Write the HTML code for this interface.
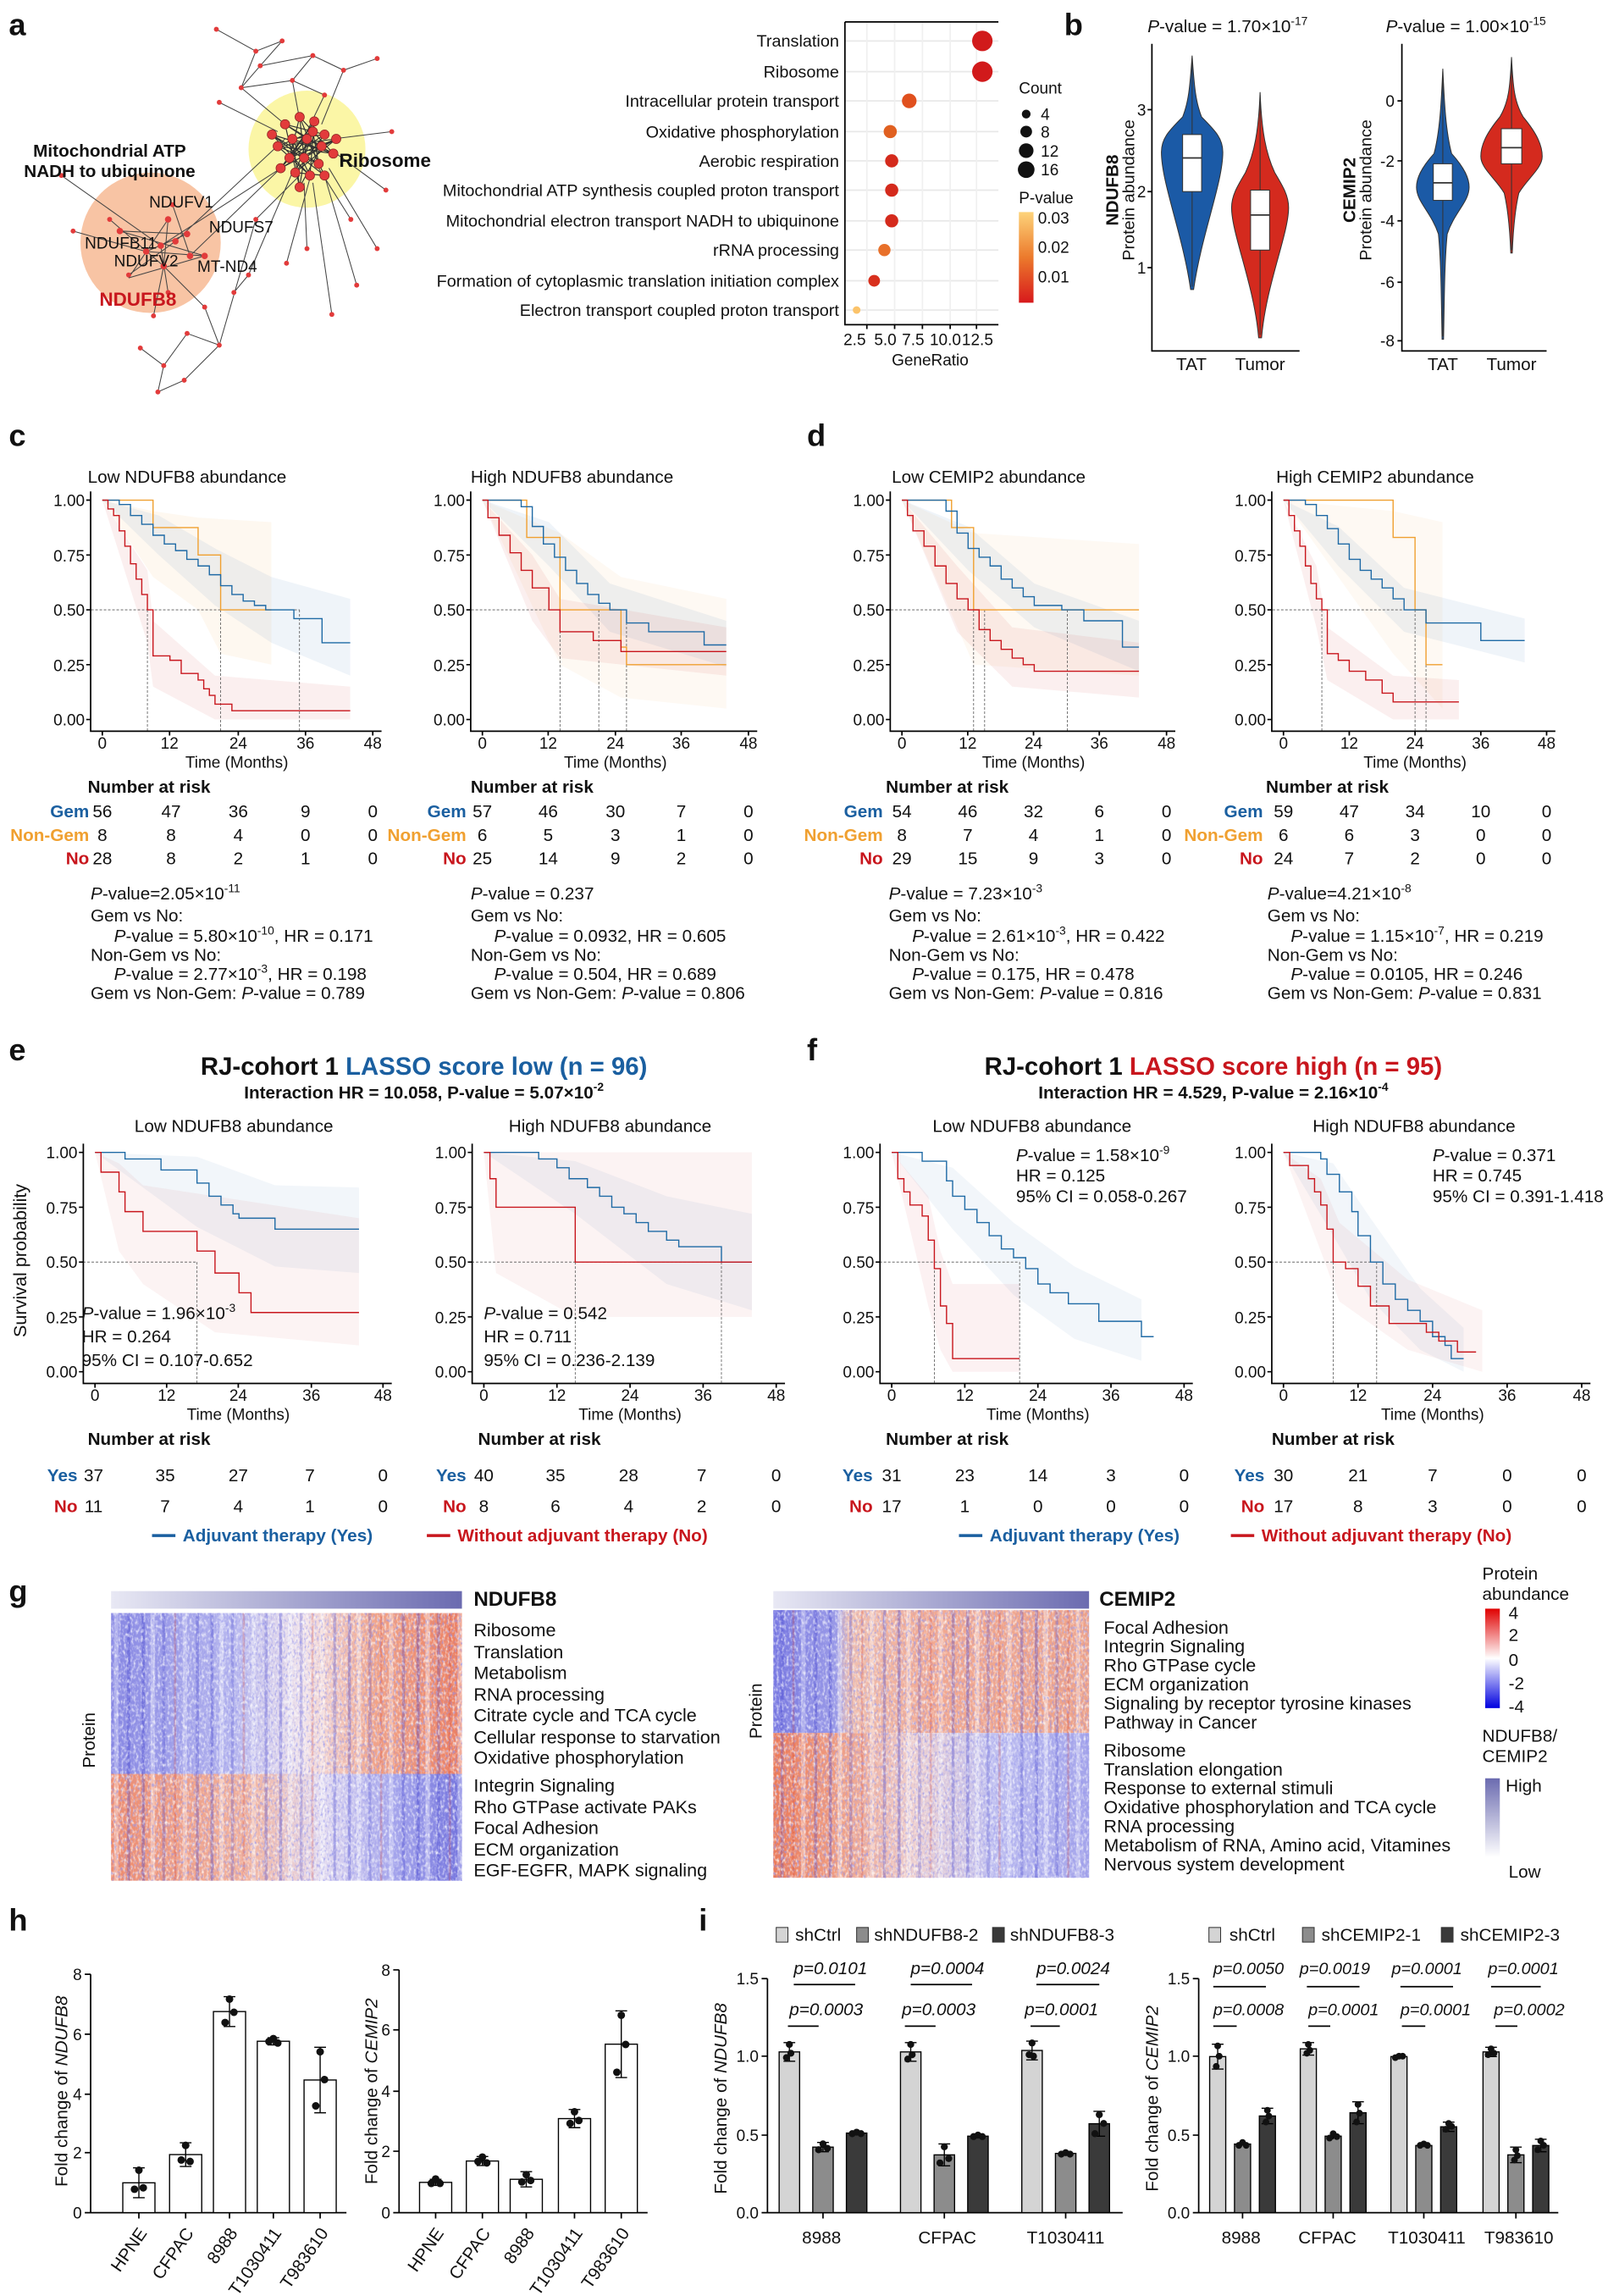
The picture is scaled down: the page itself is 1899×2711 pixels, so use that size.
<!DOCTYPE html>
<html><head><meta charset="utf-8"><style>
html,body{margin:0;padding:0;background:#fff}
svg{display:block}
text{font-family:"Liberation Sans",Arial,sans-serif;fill:#111}
.b{font-weight:bold}
.pl{font-size:21px;font-weight:bold}
.t{font-size:12px}
.s{font-size:11px}
.tk{font-size:11px}
.red{fill:#c8161d}.blue{fill:#1a5fa0}.org{fill:#f0a030}
.it{font-style:italic}
.ns{vector-effect:non-scaling-stroke;fill:none}
.kr{stroke:#c8161d;stroke-width:1.4}
.kb{stroke:#1f6aa5;stroke-width:1.4}
.ko{stroke:#f0a030;stroke-width:1.4}
.kd{stroke:#555;stroke-width:.8;stroke-dasharray:3 2}
.ax{stroke:#000;stroke-width:1;fill:none}
.eb{stroke:#000;stroke-width:.8;fill:none}
</style></head><body>
<svg width="1899" height="2711" viewBox="0 0 1100 1570" preserveAspectRatio="none" xmlns="http://www.w3.org/2000/svg">
<rect width="1100" height="1570" fill="#fff"/>
<defs>
<linearGradient id="pg" x1="0" y1="1" x2="0" y2="0"><stop offset="0" stop-color="#d7191c"/><stop offset=".5" stop-color="#ec7a2c"/><stop offset="1" stop-color="#fdd37a"/></linearGradient>
<linearGradient id="hm" x1="0" y1="1" x2="0" y2="0"><stop offset="0" stop-color="#0000e0"/><stop offset=".5" stop-color="#fff"/><stop offset="1" stop-color="#e00000"/></linearGradient>
<linearGradient id="hl" x1="0" y1="1" x2="0" y2="0"><stop offset="0" stop-color="#fff"/><stop offset="1" stop-color="#6b6bb0"/></linearGradient>
<linearGradient id="ab" x1="0" y1="0" x2="1" y2="0"><stop offset="0" stop-color="#e8e8f4"/><stop offset="1" stop-color="#6b6bb0"/></linearGradient>
<linearGradient id="h1t" x1="0" y1="0" x2="1" y2="0"><stop offset="0" stop-color="#8686e2"/><stop offset=".35" stop-color="#b8b8ee"/><stop offset=".55" stop-color="#f2e4ea"/><stop offset=".75" stop-color="#f2a488"/><stop offset="1" stop-color="#ec7e60"/></linearGradient>
<linearGradient id="h1b" x1="0" y1="0" x2="1" y2="0"><stop offset="0" stop-color="#ee8a6c"/><stop offset=".4" stop-color="#f2b4a0"/><stop offset=".6" stop-color="#e4dcf0"/><stop offset=".8" stop-color="#a8a8ec"/><stop offset="1" stop-color="#7272dc"/></linearGradient>
<linearGradient id="h2t" x1="0" y1="0" x2="1" y2="0"><stop offset="0" stop-color="#7676e0"/><stop offset=".2" stop-color="#9a9ae6"/><stop offset=".24" stop-color="#f0c0b0"/><stop offset=".5" stop-color="#f2a890"/><stop offset="1" stop-color="#eea288"/></linearGradient>
<linearGradient id="h2b" x1="0" y1="0" x2="1" y2="0"><stop offset="0" stop-color="#ec7a58"/><stop offset=".2" stop-color="#f09c80"/><stop offset=".45" stop-color="#eed0d0"/><stop offset=".7" stop-color="#c0c0f0"/><stop offset="1" stop-color="#a4a4ea"/></linearGradient>
<pattern id="st" width="47" height="10" patternUnits="userSpaceOnUse">
<rect x="3" width="2" height="10" fill="#3030c8" opacity=".35"/><rect x="9" width="3" height="10" fill="#fff" opacity=".4"/><rect x="17" width="2" height="10" fill="#3030c8" opacity=".25"/><rect x="25" width="1.5" height="10" fill="#d03020" opacity=".25"/><rect x="31" width="3" height="10" fill="#fff" opacity=".35"/><rect x="40" width="2" height="10" fill="#3030c8" opacity=".3"/>
</pattern>
<filter id="nz" x="0" y="0" width="1" height="1"><feTurbulence type="fractalNoise" baseFrequency="0.6 0.35" numOctaves="2" seed="3"/><feColorMatrix values="0 0 0 0 1  0 0 0 0 1  0 0 0 0 1  2 0 0 0 -0.9"/></filter>
<filter id="nz2" x="0" y="0" width="1" height="1"><feTurbulence type="fractalNoise" baseFrequency="0.7 0.4" numOctaves="2" seed="9"/><feColorMatrix values="0 0 0 0 0.3  0 0 0 0 0.3  0 0 0 0 0.85  2.2 0 0 0 -1.1"/></filter>
</defs>

<!-- panel a -->
<text class="pl" x="6" y="24">a</text>
<circle cx="210" cy="102" r="40" fill="#fbf6a6"/>
<circle cx="103" cy="166" r="48" fill="#f8c4a4"/>
<path d="M148,20 L175,35 L193,28 L178,45 L165,60 L200,55 L214,38 L235,48 L258,40 M178,45 L214,38 M165,60 L175,35 M200,55 L222,65 M150,70 L190,90 M222,65 L210,90 M200,55 L205,82 M165,60 L195,85 M235,48 L220,85 M175,150 L205,120 M196,180 L212,122 M227,215 L214,125 M244,195 L222,120 M258,170 L225,115 M264,130 L230,105 M268,90 L228,95 M240,150 L218,115 M210,170 L208,125 M170,188 L200,118 M160,200 L170,188 M140,210 L150,236 L128,228 L112,250 L108,268 L126,260 L150,236 M112,250 L96,238 M140,210 L112,182 M150,236 L175,150 M42,120 L110,168 M50,158 L100,172 M75,150 L112,182 M118,140 L130,175 M88,188 L120,165 M115,200 L110,168 M105,216 L112,182 M82,158 L128,160 M88,190 L140,175 M100,172 L140,175 M110,168 L200,110 M120,165 L195,95 M130,175 L192,115 M115,150 L112,182 M100,172 L128,160 M82,158 L140,175 M88,190 L115,150" stroke="#444" stroke-width=".6" fill="none"/>
<path d="M195,85 L222,92 L200,95 L228,105 L190,100 L218,112 L205,80 L198,108 L215,83 L212,120 L186,92 L222,120 L202,118 L230,95 L192,115 L214,90 L208,108 L205,128 L220,100 L195,85 L210,95 L222,120 M200,95 L212,120 L190,100 L214,90 L218,112 L186,92 L228,105 L205,80 L208,108 L230,95 L198,108 L222,92 L202,118 L215,83 L192,115 L210,95 L205,128 L195,85 M210,95 L228,105 M200,95 L205,128 M186,92 L222,120 M190,100 L230,95" stroke="#333" stroke-width=".7" fill="none"/>
<g fill="#e23b3b" stroke="#822" stroke-width=".4">
<circle cx="195" cy="85" r="3.2"/><circle cx="205" cy="80" r="3.2"/><circle cx="215" cy="83" r="3.2"/><circle cx="222" cy="92" r="3.2"/><circle cx="200" cy="95" r="3.2"/><circle cx="210" cy="95" r="3.2"/><circle cx="220" cy="100" r="3.2"/><circle cx="190" cy="100" r="3.2"/><circle cx="198" cy="108" r="3.2"/><circle cx="208" cy="108" r="3.2"/><circle cx="218" cy="112" r="3.2"/><circle cx="228" cy="105" r="3.2"/><circle cx="202" cy="118" r="3.2"/><circle cx="212" cy="120" r="3.2"/><circle cx="192" cy="115" r="3.2"/><circle cx="222" cy="120" r="3.2"/><circle cx="205" cy="128" r="3.2"/><circle cx="214" cy="90" r="3.2"/><circle cx="186" cy="92" r="3.2"/><circle cx="230" cy="95" r="3.2"/>
</g>
<g fill="#e23b3b">
<circle cx="148" cy="20" r="1.7"/><circle cx="175" cy="35" r="1.7"/><circle cx="193" cy="28" r="1.7"/><circle cx="178" cy="45" r="1.7"/><circle cx="165" cy="60" r="1.7"/><circle cx="200" cy="55" r="1.7"/><circle cx="214" cy="38" r="1.7"/><circle cx="235" cy="48" r="1.7"/><circle cx="258" cy="40" r="1.7"/><circle cx="222" cy="65" r="1.7"/><circle cx="150" cy="70" r="1.7"/><circle cx="175" cy="150" r="1.7"/><circle cx="196" cy="180" r="1.7"/><circle cx="227" cy="215" r="1.7"/><circle cx="244" cy="195" r="1.7"/><circle cx="258" cy="170" r="1.7"/><circle cx="264" cy="130" r="1.7"/><circle cx="268" cy="90" r="1.7"/><circle cx="240" cy="150" r="1.7"/><circle cx="210" cy="170" r="1.7"/><circle cx="170" cy="188" r="1.7"/><circle cx="160" cy="200" r="1.7"/><circle cx="140" cy="210" r="1.7"/><circle cx="150" cy="236" r="1.7"/><circle cx="128" cy="228" r="1.7"/><circle cx="112" cy="250" r="1.7"/><circle cx="108" cy="268" r="1.7"/><circle cx="126" cy="260" r="1.7"/><circle cx="96" cy="238" r="1.7"/><circle cx="42" cy="120" r="1.7"/><circle cx="50" cy="158" r="1.7"/><circle cx="75" cy="150" r="1.7"/><circle cx="118" cy="140" r="1.7"/><circle cx="88" cy="188" r="1.7"/><circle cx="115" cy="200" r="1.7"/><circle cx="105" cy="216" r="1.7"/>
<circle cx="110" cy="168" r="2.2"/><circle cx="120" cy="165" r="2.2"/><circle cx="100" cy="172" r="2.2"/><circle cx="130" cy="175" r="2.2"/><circle cx="112" cy="182" r="2.2"/><circle cx="82" cy="158" r="2.2"/><circle cx="128" cy="160" r="2.2"/><circle cx="140" cy="175" r="2.2"/><circle cx="115" cy="150" r="2.2"/>
</g>
<text class="b" x="75" y="107" font-size="12" text-anchor="middle">Mitochondrial ATP</text>
<text class="b" x="75" y="121" font-size="12" text-anchor="middle">NADH to ubiquinone</text>
<text class="b" x="232" y="114" font-size="13">Ribosome</text>
<text class="s" x="102" y="142">NDUFV1</text>
<text class="s" x="58" y="170">NDUFB11</text>
<text class="s" x="143" y="159">NDUFS7</text>
<text class="s" x="78" y="182">NDUFV2</text>
<text class="s" x="135" y="186">MT-ND4</text>
<text class="b red" x="68" y="209" font-size="13">NDUFB8</text>

<!-- dot plot -->
<rect x="578" y="15" width="105" height="207" fill="#fff"/>
<g stroke="#e8e8e8" stroke-width="1">
<path d="M578,28H683M578,49H683M578,69H683M578,90H683M578,110H683M578,130H683M578,151H683M578,171H683M578,192H683M578,212H683"/>
<path d="M593,15V222M612,15V222M631,15V222M650,15V222M668,15V222" stroke="#f0f0f0"/>
</g>
<path class="ax" d="M578,15H683M578,15V222H683M593,222v3M612,222v3M631,222v3M650,222v3M668,222v3"/>
<circle cx="672" cy="28" r="7" fill="#d11a1b"/><circle cx="672" cy="49" r="7" fill="#d11a1b"/><circle cx="622" cy="69" r="5" fill="#e0501e"/><circle cx="609" cy="90" r="4.5" fill="#e06020"/><circle cx="610" cy="110" r="4.5" fill="#d42a1c"/><circle cx="610" cy="130" r="4.5" fill="#d42a1c"/><circle cx="610" cy="151" r="4.5" fill="#d42a1c"/><circle cx="605" cy="171" r="4.2" fill="#e8702a"/><circle cx="598" cy="192" r="4" fill="#d8301d"/><circle cx="586" cy="212" r="2.6" fill="#fbc36a"/>
<g font-size="11.5" text-anchor="end">
<text x="574" y="32">Translation</text><text x="574" y="53">Ribosome</text><text x="574" y="73">Intracellular protein transport</text><text x="574" y="94">Oxidative phosphorylation</text><text x="574" y="114">Aerobic respiration</text><text x="574" y="134">Mitochondrial ATP synthesis coupled proton transport</text><text x="574" y="155">Mitochondrial electron transport NADH to ubiquinone</text><text x="574" y="175">rRNA processing</text><text x="574" y="196">Formation of cytoplasmic translation initiation complex</text><text x="574" y="216">Electron transport coupled proton transport</text>
</g>
<text class="tk" x="577" y="236">2.5</text><text class="tk" x="598" y="236">5.0</text><text class="tk" x="617" y="236">7.5</text><text class="tk" x="636" y="236">10.0</text><text class="tk" x="658" y="236">12.5</text>
<text class="s" x="610" y="250">GeneRatio</text>
<text class="s" x="697" y="64">Count</text>
<circle cx="702" cy="78" r="3" fill="#111"/><circle cx="702" cy="90" r="4" fill="#111"/><circle cx="702" cy="103" r="5" fill="#111"/><circle cx="702" cy="116" r="5.7" fill="#111"/>
<text class="s" x="712" y="82">4</text><text class="s" x="712" y="94">8</text><text class="s" x="712" y="107">12</text><text class="s" x="712" y="120">16</text>
<text class="s" x="697" y="139">P-value</text>
<rect x="697" y="145" width="10" height="62" fill="url(#pg)"/>
<text class="s" x="710" y="153">0.03</text><text class="s" x="710" y="173">0.02</text><text class="s" x="710" y="193">0.01</text>

<!-- panel b -->
<text class="pl" x="728" y="24">b</text>
<text class="t" x="785" y="22"><tspan class="it">P</tspan>-value = 1.70×10<tspan font-size="8" dy="-5">-17</tspan></text>
<text class="t" x="948" y="22"><tspan class="it">P</tspan>-value = 1.00×10<tspan font-size="8" dy="-5">-15</tspan></text>
<g stroke="#333" stroke-width=".6">
<path d="M815.5,38 C817,60 818,70 822,80 C832,90 836.5,95 836.5,104 C836.5,125 822,160 816.5,198 L814.5,198 C809,160 794.5,125 794.5,104 C794.5,95 799,90 809,80 C813,70 814,60 815.5,38Z" fill="#1b5aa6"/>
<path d="M862,63 C863,90 866,105 872,118 C878,128 881.5,134 881.5,142 C881.5,160 866,195 863,231 L861,231 C858,195 842.5,160 842.5,142 C842.5,134 846,128 852,118 C858,105 861,90 862,63Z" fill="#d42a1e"/>
<path d="M987,47 C988,70 989,90 993,105 C1002,115 1005,122 1005,128 C1005,138 995,145 990,160 C988,180 988,210 987.5,232 L986.5,232 C986,210 986,180 984,160 C979,145 969,138 969,128 C969,122 972,115 981,105 C985,90 986,70 987,47Z" fill="#1b5aa6"/>
<path d="M1034,39 C1035,60 1036,70 1042,80 C1052,92 1055,100 1055,107 C1055,115 1045,122 1039,132 C1036,145 1035,160 1034.5,173 L1033.5,173 C1033,160 1032,145 1029,132 C1023,122 1013,115 1013,107 C1013,100 1016,92 1026,80 C1032,70 1033,60 1034,39Z" fill="#d42a1e"/>
<path d="M815.5,40V196M862,65V229M987,49V230M1034,41V171" fill="none"/>
<rect x="809" y="92" width="13" height="39" fill="#fff"/><rect x="855.5" y="130" width="13" height="41" fill="#fff"/><rect x="980.5" y="112" width="13" height="25" fill="#fff"/><rect x="1027" y="88" width="14" height="24" fill="#fff"/>
<path d="M809,108h13M855.5,147h13M980.5,125h13M1027,101h14" stroke-width="1" fill="none"/>
</g>
<path class="ax" d="M788,30V240H889M959,30V240H1058M785,75h3M785,131h3M785,183h3M956,69h3M956,110h3M956,151h3M956,193h3M956,233h3"/>
<text class="tk" x="784" y="79" text-anchor="end">3</text><text class="tk" x="784" y="135" text-anchor="end">2</text><text class="tk" x="784" y="187" text-anchor="end">1</text>
<text class="tk" x="954" y="73" text-anchor="end">0</text><text class="tk" x="954" y="114" text-anchor="end">-2</text><text class="tk" x="954" y="155" text-anchor="end">-4</text><text class="tk" x="954" y="197" text-anchor="end">-6</text><text class="tk" x="954" y="237" text-anchor="end">-8</text>
<text transform="translate(765,130) rotate(-90)" text-anchor="middle" class="b" font-size="12">NDUFB8</text>
<text transform="translate(776,130) rotate(-90)" text-anchor="middle" font-size="11.5">Protein abundance</text>
<text transform="translate(927,130) rotate(-90)" text-anchor="middle" class="b" font-size="12">CEMIP2</text>
<text transform="translate(938,130) rotate(-90)" text-anchor="middle" font-size="11.5">Protein abundance</text>
<text class="t" x="815" y="253" text-anchor="middle">TAT</text><text class="t" x="862" y="253" text-anchor="middle">Tumor</text>
<text class="t" x="987" y="253" text-anchor="middle">TAT</text><text class="t" x="1034" y="253" text-anchor="middle">Tumor</text>

<!-- panels c d -->
<text class="pl" x="6" y="305">c</text>
<text class="pl" x="552" y="305">d</text>
<g font-size="12">
<text x="60" y="330">Low NDUFB8 abundance</text><text x="322" y="330">High NDUFB8 abundance</text><text x="610" y="330">Low CEMIP2 abundance</text><text x="873" y="330">High CEMIP2 abundance</text>
</g>

<g transform="translate(70,492) scale(3.854,-150)">
<polygon points="0,1 9,.95 17,.92 30,.9 30,.25 21,.3 17,.5 9,.65 0,1" fill="#f0a030" opacity=".07"/>
<polygon points="0,1 10,.93 20,.78 30,.65 44,.55 44,.2 30,.35 20,.52 10,.75 0,1" fill="#1f6aa5" opacity=".07"/>
<polygon points="0,1 8,.68 9,.45 20,.2 44,.15 44,0 20,0 9,.15 8,.35 0,1" fill="#c8161d" opacity=".07"/>
<path class="ns kd" d="M-2,.5H35M8,.5V-.05M21,.5V-.05M35,.5V-.05"/>
<path class="ns ko" d="M0,1H9V.875H17V.75H21V.5H30"/>
<path class="ns kb" d="M0,1H3V.98H5V.93H7V.89H9V.84H11V.8H13V.77H15V.73H17V.7H19V.66H21V.61H23V.57H25V.54H27V.52H29V.5H34V.46H39V.35H44"/>
<path class="ns kr" d="M0,1H1V.96H2V.93H3V.86H4V.79H5V.71H6V.64H7V.57H8V.5H9V.29H12V.27H14V.21H17V.18H18V.14H19V.11H20V.07H23V.04H44"/>
</g>
<g transform="translate(330,492) scale(3.792,-150)">
<polygon points="0,1 14,.85 25,.65 44,.55 44,.05 25,.1 14,.25 0,1" fill="#f0a030" opacity=".06"/>
<polygon points="0,1 12,.9 23,.62 44,.45 44,.24 23,.4 12,.7 0,1" fill="#1f6aa5" opacity=".07"/>
<polygon points="0,1 9,.75 14,.55 44,.42 44,.2 14,.28 9,.45 0,1" fill="#c8161d" opacity=".07"/>
<path class="ns kd" d="M-2,.5H26M14,.5V-.05M21,.5V-.05M26,.5V-.05"/>
<path class="ns ko" d="M0,1H8V.83H14V.5H25V.33H26V.25H44"/>
<path class="ns kb" d="M0,1H7V.97H9V.88H11V.8H13V.74H15V.68H17V.62H19V.57H21V.53H23V.5H26V.44H30V.4H40V.34H44"/>
<path class="ns kr" d="M0,1H1V.92H3V.84H5V.76H7V.68H9V.6H12V.5H14V.4H20V.36H25V.31H44"/>
</g>
<g transform="translate(617,492) scale(3.771,-150)">
<polygon points="0,1 13,.85 43,.8 43,.2 13,.25 0,1" fill="#f0a030" opacity=".06"/>
<polygon points="0,1 12,.88 24,.62 43,.45 43,.22 24,.42 12,.68 0,1" fill="#1f6aa5" opacity=".07"/>
<polygon points="0,1 10,.7 20,.42 43,.35 43,.1 20,.15 10,.4 0,1" fill="#c8161d" opacity=".07"/>
<path class="ns kd" d="M-2,.5H30M13,.5V-.05M15,.5V-.05M30,.5V-.05"/>
<path class="ns ko" d="M0,1H9V.875H13V.5H43"/>
<path class="ns kb" d="M0,1H8V.95H10V.85H12V.78H14V.74H16V.7H18V.64H20V.6H22V.56H24V.52H29V.5H33V.45H40V.33H43"/>
<path class="ns kr" d="M0,1H1V.93H2V.86H4V.79H6V.7H8V.62H10V.55H12V.5H14V.41H16V.36H18V.32H20V.28H22V.25H24V.22H43"/>
</g>
<g transform="translate(878,492) scale(3.75,-150)">
<polygon points="0,1 20,.95 29,.9 29,.05 20,.3 0,1" fill="#f0a030" opacity=".06"/>
<polygon points="0,1 10,.88 22,.6 44,.46 44,.26 22,.4 10,.7 0,1" fill="#1f6aa5" opacity=".07"/>
<polygon points="0,1 6,.7 8,.42 20,.2 32,.18 32,0 20,0 8,.18 6,.42 0,1" fill="#c8161d" opacity=".07"/>
<path class="ns kd" d="M-2,.5H26M7,.5V-.05M24,.5V-.05M26,.5V-.05"/>
<path class="ns ko" d="M0,1H20V.83H24V.5H26V.25H29"/>
<path class="ns kb" d="M0,1H4V.98H6V.93H8V.87H10V.8H12V.73H14V.68H16V.64H18V.6H20V.55H22V.5H26V.44H32V.44H36V.36H44"/>
<path class="ns kr" d="M0,1H1V.93H2V.86H3V.79H4V.7H5V.62H6V.55H7V.5H8V.3H10V.27H12V.22H15V.18H18V.12H20V.08H32"/>
</g>
<path class="ax" d="M62,336V500H261M322,336V500H518M609,336V500H804M870,336V500H1064
M59,342h3M59,379.5h3M59,417h3M59,454.5h3M59,492h3 M319,342h3M319,379.5h3M319,417h3M319,454.5h3M319,492h3 M606,342h3M606,379.5h3M606,417h3M606,454.5h3M606,492h3 M867,342h3M867,379.5h3M867,417h3M867,454.5h3M867,492h3
M70,500v3M116,500v3M163,500v3M209,500v3M255,500v3 M330,500v3M375,500v3M421,500v3M466,500v3M512,500v3 M617,500v3M662,500v3M707,500v3M752,500v3M798,500v3 M878,500v3M923,500v3M968,500v3M1013,500v3M1058,500v3"/>

<g transform="translate(65,938) scale(4.104,-150)">
<polygon points="0,1 17,.98 30,.85 44,.84 44,.45 30,.48 17,.66 0,1" fill="#1f6aa5" opacity=".06"/>
<polygon points="0,1 4,.95 8,.85 20,.8 44,.7 44,.12 20,.18 8,.4 4,.55 0,1" fill="#c8161d" opacity=".05"/>
<path class="ns kd" d="M-2,.5H17M17,.5V-.05"/>
<path class="ns kb" d="M0,1H5V.97H11V.92H17V.86H19V.8H21V.76H23V.72H24V.7H30V.65H44"/>
<path class="ns kr" d="M0,1H1V.91H4V.82H5V.73H8V.64H17V.55H20V.45H24V.36H26V.27H44"/>
</g>
<g transform="translate(331,938) scale(4.167,-150)">
<polygon points="0,1 15,.96 30,.8 44,.72 44,.28 30,.4 15,.72 0,1" fill="#1f6aa5" opacity=".06"/>
<polygon points="0,1 44,1 44,.25 15,.25 2,.45 0,1" fill="#c8161d" opacity=".05"/>
<path class="ns kd" d="M-2,.5H39M15,.5V-.05M39,.5V-.05"/>
<path class="ns kb" d="M0,1H9V.97H12V.93H14V.88H17V.84H19V.8H21V.75H23V.72H25V.68H27V.64H30V.6H32V.57H39V.5H44"/>
<path class="ns kr" d="M0,1H1V.88H2V.75H15V.5H44"/>
</g>
<g transform="translate(610,938) scale(4.167,-150)">
<polygon points="0,1 10,.93 20,.68 30,.48 41,.33 41,.05 30,.15 20,.35 10,.65 0,1" fill="#1f6aa5" opacity=".06"/>
<polygon points="0,1 6,.8 8,.55 10,.4 21,.4 21,0 10,0 8,.1 6,.3 0,1" fill="#c8161d" opacity=".06"/>
<path class="ns kd" d="M-2,.5H21M7,.5V-.05M21,.5V-.05"/>
<path class="ns kb" d="M0,1H5V.96H9V.87H10V.8H12V.74H14V.68H16V.62H18V.56H20V.52H22V.47H24V.4H26V.36H29V.31H34V.23H41V.16H43"/>
<path class="ns kr" d="M0,1H1V.88H2V.82H3V.76H5V.71H6V.6H7V.47H8V.3H9V.22H10V.06H21"/>
</g>
<g transform="translate(878,938) scale(4.25,-150)">
<polygon points="0,1 8,.95 14,.7 22,.38 29,.2 29,0 22,.1 14,.33 8,.62 0,1" fill="#1f6aa5" opacity=".06"/>
<polygon points="0,1 6,.88 9,.68 20,.42 32,.28 32,0 20,.1 9,.32 6,.55 0,1" fill="#c8161d" opacity=".05"/>
<path class="ns kd" d="M-2,.5H15M8,.5V-.05M15,.5V-.05"/>
<path class="ns kb" d="M0,1H6V.97H7V.9H9V.82H11V.73H12V.62H14V.5H16V.4H18V.33H20V.28H22V.23H24V.16H26V.12H27V.06H29"/>
<path class="ns kr" d="M0,1H1V.94H4V.88H5V.82H6V.76H7V.65H8V.5H10V.47H12V.39H14V.3H17V.22H23V.18H25V.14H28V.09H31"/>
</g>
<path class="ax" d="M57,782V946H268M323,782V946H537M602,782V946H816M870,782V946H1088
M54,788h3M54,825.5h3M54,863h3M54,900.5h3M54,938h3 M320,788h3M320,825.5h3M320,863h3M320,900.5h3M320,938h3 M599,788h3M599,825.5h3M599,863h3M599,900.5h3M599,938h3 M867,788h3M867,825.5h3M867,863h3M867,900.5h3M867,938h3
M65,946v3M114,946v3M163,946v3M213,946v3M262,946v3 M331,946v3M381,946v3M431,946v3M481,946v3M531,946v3 M610,946v3M660,946v3M710,946v3M760,946v3M810,946v3 M878,946v3M929,946v3M980,946v3M1031,946v3M1082,946v3"/>

<g font-size="11" text-anchor="end">
<text x="58" y="346">1.00</text><text x="58" y="384">0.75</text><text x="58" y="421">0.50</text><text x="58" y="459">0.25</text><text x="58" y="496">0.00</text>
<text x="318" y="346">1.00</text><text x="318" y="384">0.75</text><text x="318" y="421">0.50</text><text x="318" y="459">0.25</text><text x="318" y="496">0.00</text>
<text x="605" y="346">1.00</text><text x="605" y="384">0.75</text><text x="605" y="421">0.50</text><text x="605" y="459">0.25</text><text x="605" y="496">0.00</text>
<text x="866" y="346">1.00</text><text x="866" y="384">0.75</text><text x="866" y="421">0.50</text><text x="866" y="459">0.25</text><text x="866" y="496">0.00</text>
<text x="53" y="792">1.00</text><text x="53" y="830">0.75</text><text x="53" y="867">0.50</text><text x="53" y="905">0.25</text><text x="53" y="942">0.00</text>
<text x="319" y="792">1.00</text><text x="319" y="830">0.75</text><text x="319" y="867">0.50</text><text x="319" y="905">0.25</text><text x="319" y="942">0.00</text>
<text x="598" y="792">1.00</text><text x="598" y="830">0.75</text><text x="598" y="867">0.50</text><text x="598" y="905">0.25</text><text x="598" y="942">0.00</text>
<text x="866" y="792">1.00</text><text x="866" y="830">0.75</text><text x="866" y="867">0.50</text><text x="866" y="905">0.25</text><text x="866" y="942">0.00</text>
</g>
<g font-size="11" text-anchor="middle">
<text x="70" y="512">0</text><text x="116" y="512">12</text><text x="163" y="512">24</text><text x="209" y="512">36</text><text x="255" y="512">48</text>
<text x="330" y="512">0</text><text x="375" y="512">12</text><text x="421" y="512">24</text><text x="466" y="512">36</text><text x="512" y="512">48</text>
<text x="617" y="512">0</text><text x="662" y="512">12</text><text x="707" y="512">24</text><text x="752" y="512">36</text><text x="798" y="512">48</text>
<text x="878" y="512">0</text><text x="923" y="512">12</text><text x="968" y="512">24</text><text x="1013" y="512">36</text><text x="1058" y="512">48</text>
<text x="65" y="958">0</text><text x="114" y="958">12</text><text x="163" y="958">24</text><text x="213" y="958">36</text><text x="262" y="958">48</text>
<text x="331" y="958">0</text><text x="381" y="958">12</text><text x="431" y="958">24</text><text x="481" y="958">36</text><text x="531" y="958">48</text>
<text x="610" y="958">0</text><text x="660" y="958">12</text><text x="710" y="958">24</text><text x="760" y="958">36</text><text x="810" y="958">48</text>
<text x="878" y="958">0</text><text x="929" y="958">12</text><text x="980" y="958">24</text><text x="1031" y="958">36</text><text x="1082" y="958">48</text>
<text x="162" y="525">Time (Months)</text><text x="421" y="525">Time (Months)</text><text x="707" y="525">Time (Months)</text><text x="968" y="525">Time (Months)</text>
<text x="163" y="971">Time (Months)</text><text x="431" y="971">Time (Months)</text><text x="710" y="971">Time (Months)</text><text x="980" y="971">Time (Months)</text>
</g>

<g font-size="12">
<text class="b" x="60" y="542">Number at risk</text><text class="b" x="322" y="542">Number at risk</text><text class="b" x="606" y="542">Number at risk</text><text class="b" x="866" y="542">Number at risk</text>
<text class="b blue" x="61" y="559" text-anchor="end">Gem</text><text class="b org" x="61" y="575" text-anchor="end">Non-Gem</text><text class="b red" x="61" y="591" text-anchor="end">No</text>
<text class="b blue" x="319" y="559" text-anchor="end">Gem</text><text class="b org" x="319" y="575" text-anchor="end">Non-Gem</text><text class="b red" x="319" y="591" text-anchor="end">No</text>
<text class="b blue" x="604" y="559" text-anchor="end">Gem</text><text class="b org" x="604" y="575" text-anchor="end">Non-Gem</text><text class="b red" x="604" y="591" text-anchor="end">No</text>
<text class="b blue" x="864" y="559" text-anchor="end">Gem</text><text class="b org" x="864" y="575" text-anchor="end">Non-Gem</text><text class="b red" x="864" y="591" text-anchor="end">No</text>
</g>
<g font-size="12" text-anchor="middle">
<text x="70" y="559">56</text><text x="117" y="559">47</text><text x="163" y="559">36</text><text x="209" y="559">9</text><text x="255" y="559">0</text>
<text x="70" y="575">8</text><text x="117" y="575">8</text><text x="163" y="575">4</text><text x="209" y="575">0</text><text x="255" y="575">0</text>
<text x="70" y="591">28</text><text x="117" y="591">8</text><text x="163" y="591">2</text><text x="209" y="591">1</text><text x="255" y="591">0</text>
<text x="330" y="559">57</text><text x="375" y="559">46</text><text x="421" y="559">30</text><text x="466" y="559">7</text><text x="512" y="559">0</text>
<text x="330" y="575">6</text><text x="375" y="575">5</text><text x="421" y="575">3</text><text x="466" y="575">1</text><text x="512" y="575">0</text>
<text x="330" y="591">25</text><text x="375" y="591">14</text><text x="421" y="591">9</text><text x="466" y="591">2</text><text x="512" y="591">0</text>
<text x="617" y="559">54</text><text x="662" y="559">46</text><text x="707" y="559">32</text><text x="752" y="559">6</text><text x="798" y="559">0</text>
<text x="617" y="575">8</text><text x="662" y="575">7</text><text x="707" y="575">4</text><text x="752" y="575">1</text><text x="798" y="575">0</text>
<text x="617" y="591">29</text><text x="662" y="591">15</text><text x="707" y="591">9</text><text x="752" y="591">3</text><text x="798" y="591">0</text>
<text x="878" y="559">59</text><text x="923" y="559">47</text><text x="968" y="559">34</text><text x="1013" y="559">10</text><text x="1058" y="559">0</text>
<text x="878" y="575">6</text><text x="923" y="575">6</text><text x="968" y="575">3</text><text x="1013" y="575">0</text><text x="1058" y="575">0</text>
<text x="878" y="591">24</text><text x="923" y="591">7</text><text x="968" y="591">2</text><text x="1013" y="591">0</text><text x="1058" y="591">0</text>
</g>
<g font-size="12">
<text x="62" y="615"><tspan class="it">P</tspan>-value=2.05×10<tspan font-size="8" dy="-5">-11</tspan></text>
<text x="62" y="630">Gem vs No:</text>
<text x="78" y="644"><tspan class="it">P</tspan>-value = 5.80×10<tspan font-size="8" dy="-5">-10</tspan><tspan dy="5">, HR = 0.171</tspan></text>
<text x="62" y="657">Non-Gem vs No:</text>
<text x="78" y="670"><tspan class="it">P</tspan>-value = 2.77×10<tspan font-size="8" dy="-5">-3</tspan><tspan dy="5">, HR = 0.198</tspan></text>
<text x="62" y="683">Gem vs Non-Gem: <tspan class="it">P</tspan>-value = 0.789</text>
<text x="322" y="615"><tspan class="it">P</tspan>-value = 0.237</text>
<text x="322" y="630">Gem vs No:</text>
<text x="338" y="644"><tspan class="it">P</tspan>-value = 0.0932, HR = 0.605</text>
<text x="322" y="657">Non-Gem vs No:</text>
<text x="338" y="670"><tspan class="it">P</tspan>-value = 0.504, HR = 0.689</text>
<text x="322" y="683">Gem vs Non-Gem: <tspan class="it">P</tspan>-value = 0.806</text>
<text x="608" y="615"><tspan class="it">P</tspan>-value = 7.23×10<tspan font-size="8" dy="-5">-3</tspan></text>
<text x="608" y="630">Gem vs No:</text>
<text x="624" y="644"><tspan class="it">P</tspan>-value = 2.61×10<tspan font-size="8" dy="-5">-3</tspan><tspan dy="5">, HR = 0.422</tspan></text>
<text x="608" y="657">Non-Gem vs No:</text>
<text x="624" y="670"><tspan class="it">P</tspan>-value = 0.175, HR = 0.478</text>
<text x="608" y="683">Gem vs Non-Gem: <tspan class="it">P</tspan>-value = 0.816</text>
<text x="867" y="615"><tspan class="it">P</tspan>-value=4.21×10<tspan font-size="8" dy="-5">-8</tspan></text>
<text x="867" y="630">Gem vs No:</text>
<text x="883" y="644"><tspan class="it">P</tspan>-value = 1.15×10<tspan font-size="8" dy="-5">-7</tspan><tspan dy="5">, HR = 0.219</tspan></text>
<text x="867" y="657">Non-Gem vs No:</text>
<text x="883" y="670"><tspan class="it">P</tspan>-value = 0.0105, HR = 0.246</text>
<text x="867" y="683">Gem vs Non-Gem: <tspan class="it">P</tspan>-value = 0.831</text>
</g>

<!-- panels e f -->
<text class="pl" x="6" y="725">e</text>
<text class="pl" x="552" y="725">f</text>
<text x="290" y="735" text-anchor="middle" class="b" font-size="17">RJ-cohort 1 <tspan class="blue">LASSO score low (n = 96)</tspan></text>
<text x="290" y="751" text-anchor="middle" class="b" font-size="12">Interaction HR = 10.058, P-value = 5.07×10<tspan font-size="8" dy="-5">-2</tspan></text>
<text x="830" y="735" text-anchor="middle" class="b" font-size="17">RJ-cohort 1 <tspan class="red">LASSO score high (n = 95)</tspan></text>
<text x="830" y="751" text-anchor="middle" class="b" font-size="12">Interaction HR = 4.529, P-value = 2.16×10<tspan font-size="8" dy="-5">-4</tspan></text>
<g font-size="12">
<text x="92" y="774">Low NDUFB8 abundance</text><text x="348" y="774">High NDUFB8 abundance</text><text x="638" y="774">Low NDUFB8 abundance</text><text x="898" y="774">High NDUFB8 abundance</text>
</g>
<text transform="translate(18,862) rotate(-90)" text-anchor="middle" font-size="12.5">Survival probability</text>
<g font-size="12">
<text x="56" y="902"><tspan class="it">P</tspan>-value = 1.96×10<tspan font-size="8" dy="-5">-3</tspan></text>
<text x="56" y="918">HR = 0.264</text><text x="56" y="934">95% CI = 0.107-0.652</text>
<text x="331" y="902"><tspan class="it">P</tspan>-value = 0.542</text>
<text x="331" y="918">HR = 0.711</text><text x="331" y="934">95% CI = 0.236-2.139</text>
<text x="695" y="794"><tspan class="it">P</tspan>-value = 1.58×10<tspan font-size="8" dy="-5">-9</tspan></text>
<text x="695" y="808">HR = 0.125</text><text x="695" y="822">95% CI = 0.058-0.267</text>
<text x="980" y="794"><tspan class="it">P</tspan>-value = 0.371</text>
<text x="980" y="808">HR = 0.745</text><text x="980" y="822">95% CI = 0.391-1.418</text>
</g>
<g font-size="12">
<text class="b" x="60" y="988">Number at risk</text><text class="b" x="327" y="988">Number at risk</text><text class="b" x="606" y="988">Number at risk</text><text class="b" x="870" y="988">Number at risk</text>
<text class="b blue" x="53" y="1013" text-anchor="end">Yes</text><text class="b red" x="53" y="1034" text-anchor="end">No</text>
<text class="b blue" x="319" y="1013" text-anchor="end">Yes</text><text class="b red" x="319" y="1034" text-anchor="end">No</text>
<text class="b blue" x="597" y="1013" text-anchor="end">Yes</text><text class="b red" x="597" y="1034" text-anchor="end">No</text>
<text class="b blue" x="865" y="1013" text-anchor="end">Yes</text><text class="b red" x="865" y="1034" text-anchor="end">No</text>
</g>
<g font-size="12" text-anchor="middle">
<text x="64" y="1013">37</text><text x="113" y="1013">35</text><text x="163" y="1013">27</text><text x="212" y="1013">7</text><text x="262" y="1013">0</text>
<text x="64" y="1034">11</text><text x="113" y="1034">7</text><text x="163" y="1034">4</text><text x="212" y="1034">1</text><text x="262" y="1034">0</text>
<text x="331" y="1013">40</text><text x="380" y="1013">35</text><text x="430" y="1013">28</text><text x="480" y="1013">7</text><text x="531" y="1013">0</text>
<text x="331" y="1034">8</text><text x="380" y="1034">6</text><text x="430" y="1034">4</text><text x="480" y="1034">2</text><text x="531" y="1034">0</text>
<text x="610" y="1013">31</text><text x="660" y="1013">23</text><text x="710" y="1013">14</text><text x="760" y="1013">3</text><text x="810" y="1013">0</text>
<text x="610" y="1034">17</text><text x="660" y="1034">1</text><text x="710" y="1034">0</text><text x="760" y="1034">0</text><text x="810" y="1034">0</text>
<text x="878" y="1013">30</text><text x="929" y="1013">21</text><text x="980" y="1013">7</text><text x="1031" y="1013">0</text><text x="1082" y="1013">0</text>
<text x="878" y="1034">17</text><text x="929" y="1034">8</text><text x="980" y="1034">3</text><text x="1031" y="1034">0</text><text x="1082" y="1034">0</text>
</g>
<g font-size="12" class="b">
<line x1="104" y1="1050" x2="120" y2="1050" stroke="#1a5fa0" stroke-width="2"/><text x="125" y="1054" class="blue">Adjuvant therapy (Yes)</text>
<line x1="292" y1="1050" x2="308" y2="1050" stroke="#c8161d" stroke-width="2"/><text x="313" y="1054" class="red">Without adjuvant therapy (No)</text>
<line x1="656" y1="1050" x2="672" y2="1050" stroke="#1a5fa0" stroke-width="2"/><text x="677" y="1054" class="blue">Adjuvant therapy (Yes)</text>
<line x1="842" y1="1050" x2="858" y2="1050" stroke="#c8161d" stroke-width="2"/><text x="863" y="1054" class="red">Without adjuvant therapy (No)</text>
</g>

<!-- panel g -->
<text class="pl" x="6" y="1095">g</text>
<rect x="76" y="1088" width="240" height="12" fill="url(#ab)"/>
<rect x="529" y="1088" width="216" height="12" fill="url(#ab)"/>
<rect x="76" y="1103" width="240" height="110" fill="url(#h1t)"/>
<rect x="76" y="1213" width="240" height="73" fill="url(#h1b)"/>
<rect x="529" y="1101" width="216" height="84" fill="url(#h2t)"/>
<rect x="529" y="1185" width="216" height="99" fill="url(#h2b)"/>
<rect x="76" y="1103" width="240" height="183" fill="url(#st)"/>
<rect x="529" y="1101" width="216" height="183" fill="url(#st)"/>
<rect x="76" y="1103" width="240" height="183" filter="url(#nz)"/>
<rect x="529" y="1101" width="216" height="183" filter="url(#nz)"/>
<rect x="76" y="1103" width="240" height="183" filter="url(#nz2)"/>
<rect x="529" y="1101" width="216" height="183" filter="url(#nz2)"/>
<text x="324" y="1098" class="b" font-size="14">NDUFB8</text>
<text x="752" y="1098" class="b" font-size="14">CEMIP2</text>
<text transform="translate(65,1190) rotate(-90)" text-anchor="middle" font-size="12">Protein</text>
<text transform="translate(521,1170) rotate(-90)" text-anchor="middle" font-size="12">Protein</text>
<g font-size="12.5" class="red">
<text x="324" y="1119">Ribosome</text><text x="324" y="1134">Translation</text><text x="324" y="1148">Metabolism</text><text x="324" y="1163">RNA processing</text><text x="324" y="1177">Citrate cycle and TCA cycle</text><text x="324" y="1192">Cellular response to starvation</text><text x="324" y="1206">Oxidative phosphorylation</text>
<text x="755" y="1117">Focal Adhesion</text><text x="755" y="1130">Integrin Signaling</text><text x="755" y="1143">Rho GTPase cycle</text><text x="755" y="1156">ECM organization</text><text x="755" y="1169">Signaling by receptor tyrosine kinases</text><text x="755" y="1182">Pathway in Cancer</text>
</g>
<g font-size="12.5" class="blue">
<text x="324" y="1225">Integrin Signaling</text><text x="324" y="1240">Rho GTPase activate PAKs</text><text x="324" y="1254">Focal Adhesion</text><text x="324" y="1269">ECM organization</text><text x="324" y="1283">EGF-EGFR, MAPK signaling</text>
<text x="755" y="1201">Ribosome</text><text x="755" y="1214">Translation elongation</text><text x="755" y="1227">Response to external stimuli</text><text x="755" y="1240">Oxidative phosphorylation and TCA cycle</text><text x="755" y="1253">RNA processing</text><text x="755" y="1266">Metabolism of RNA, Amino acid, Vitamines</text><text x="755" y="1279">Nervous system development</text>
</g>
<g font-size="12">
<text x="1014" y="1080">Protein</text><text x="1014" y="1094">abundance</text>
<rect x="1016" y="1100" width="10" height="68" fill="url(#hm)"/>
<text x="1032" y="1107">4</text><text x="1032" y="1122">2</text><text x="1032" y="1139">0</text><text x="1032" y="1155">-2</text><text x="1032" y="1171">-4</text>
<text x="1014" y="1191">NDUFB8/</text><text x="1014" y="1205">CEMIP2</text>
<rect x="1016" y="1216" width="10" height="54" fill="url(#hl)"/>
<text x="1030" y="1225">High</text><text x="1032" y="1284">Low</text>
</g>

<!-- panel h -->
<text class="pl" x="6" y="1320">h</text>
<text class="pl" x="478" y="1320">i</text>
<path class="ax" d="M62,1350V1513H237M58,1350h4M58,1391h4M58,1432h4M58,1472h4M58,1513h4 M273,1347V1513H443M269,1347h4M269,1388h4M269,1430h4M269,1471h4M269,1513h4
M95,1513v4M127,1513v4M157,1513v4M187,1513v4M219,1513v4M298,1513v4M330,1513v4M360,1513v4M393,1513v4M425,1513v4"/>
<g fill="#fff" stroke="#000" stroke-width=".8">
<rect x="84" y="1492.6" width="22" height="20.4"/><rect x="116" y="1473.3" width="22" height="39.7"/><rect x="146" y="1375.5" width="22" height="137.5"/><rect x="176" y="1395.8" width="22" height="117.2"/><rect x="208" y="1422.3" width="22" height="90.7"/>
<rect x="287" y="1492.3" width="22" height="20.7"/><rect x="319" y="1477.7" width="22" height="35.3"/><rect x="349" y="1490.2" width="22" height="22.8"/><rect x="382" y="1448.7" width="22" height="64.3"/><rect x="414" y="1397.8" width="22" height="115.2"/>
</g>
<path class="eb" d="M95,1482.4V1502.8M91,1482.4h8M91,1502.8h8 M127,1465.2V1481.4M123,1465.2h8M123,1481.4h8 M157,1365.3V1385.7M153,1365.3h8M153,1385.7h8 M187,1393.4V1398.3M183,1393.4h8M183,1398.3h8 M219,1399.9V1444.7M215,1399.9h8M215,1444.7h8 M298,1490.2V1494.4M294,1490.2h8M294,1494.4h8 M330,1474.6V1480.8M326,1474.6h8M326,1480.8h8 M360,1485V1495.4M356,1485h8M356,1495.4h8 M393,1442.5V1454.9M389,1442.5h8M389,1454.9h8 M425,1375V1420.6M421,1375h8M421,1420.6h8"/>
<g fill="#111">
<circle cx="92" cy="1497" r="2.6"/><circle cx="95" cy="1484" r="2.6"/><circle cx="98" cy="1496" r="2.6"/>
<circle cx="124" cy="1477" r="2.6"/><circle cx="127" cy="1467" r="2.6"/><circle cx="130" cy="1478" r="2.6"/>
<circle cx="154" cy="1383" r="2.6"/><circle cx="157" cy="1367" r="2.6"/><circle cx="160" cy="1376" r="2.6"/>
<circle cx="184" cy="1396" r="2.6"/><circle cx="187" cy="1394" r="2.6"/><circle cx="190" cy="1397" r="2.6"/>
<circle cx="216" cy="1440" r="2.6"/><circle cx="219" cy="1403" r="2.6"/><circle cx="222" cy="1422" r="2.6"/>
<circle cx="295" cy="1493" r="2.6"/><circle cx="298" cy="1490" r="2.6"/><circle cx="301" cy="1493" r="2.6"/>
<circle cx="327" cy="1478" r="2.6"/><circle cx="330" cy="1475" r="2.6"/><circle cx="333" cy="1479" r="2.6"/>
<circle cx="357" cy="1492" r="2.6"/><circle cx="360" cy="1487" r="2.6"/><circle cx="363" cy="1491" r="2.6"/>
<circle cx="390" cy="1452" r="2.6"/><circle cx="393" cy="1444" r="2.6"/><circle cx="396" cy="1450" r="2.6"/>
<circle cx="422" cy="1417" r="2.6"/><circle cx="425" cy="1378" r="2.6"/><circle cx="428" cy="1398" r="2.6"/>
</g>

<!-- panel i -->
<path class="ax" d="M525,1353V1513H768M521,1353h4M521,1406h4M521,1460h4M521,1513h4 M820,1353V1513H1066M816,1353h4M816,1406h4M816,1460h4M816,1513h4
M563,1513v4M646,1513v4M729,1513v4M850,1513v4M912,1513v4M974,1513v4M1037,1513v4"/>
<!-- i1 bars: each group translate to bar center -->
<g stroke="#000" stroke-width=".8">
<g transform="translate(540,0)"><rect x="-7" y="1403.1" width="14" height="109.9" fill="#d4d4d4"/><path class="eb" d="M0,1396.7V1409.5M-4,1396.7h8M-4,1409.5h8"/><g fill="#111" stroke="none"><circle cx="-2" cy="1407" r="2.4"/><circle cx="0" cy="1398" r="2.4"/><circle cx="1" cy="1404" r="2.4"/></g></g>
<g transform="translate(563,0)"><rect x="-7" y="1468.2" width="14" height="44.8" fill="#8c8c8c"/><path class="eb" d="M0,1465V1471.4M-4,1465h8M-4,1471.4h8"/><g fill="#111" stroke="none"><circle cx="-3" cy="1470" r="2.4"/><circle cx="0" cy="1466" r="2.4"/><circle cx="3" cy="1469" r="2.4"/></g></g>
<g transform="translate(586,0)"><rect x="-7" y="1458.6" width="14" height="54.4" fill="#3a3a3a"/><g fill="#111" stroke="none"><circle cx="-3" cy="1459" r="2.4"/><circle cx="0" cy="1458" r="2.4"/><circle cx="3" cy="1459" r="2.4"/></g></g>
<g transform="translate(623,0)"><rect x="-7" y="1403.1" width="14" height="109.9" fill="#d4d4d4"/><path class="eb" d="M0,1396.7V1409.5M-4,1396.7h8M-4,1409.5h8"/><g fill="#111" stroke="none"><circle cx="-2" cy="1408" r="2.4"/><circle cx="0" cy="1398" r="2.4"/><circle cx="1" cy="1405" r="2.4"/></g></g>
<g transform="translate(646,0)"><rect x="-7" y="1473.5" width="14" height="39.5" fill="#8c8c8c"/><path class="eb" d="M0,1466V1481M-4,1466h8M-4,1481h8"/><g fill="#111" stroke="none"><circle cx="-3" cy="1479" r="2.4"/><circle cx="0" cy="1468" r="2.4"/><circle cx="3" cy="1476" r="2.4"/></g></g>
<g transform="translate(669,0)"><rect x="-7" y="1460.7" width="14" height="52.3" fill="#3a3a3a"/><g fill="#111" stroke="none"><circle cx="-3" cy="1461" r="2.4"/><circle cx="0" cy="1460" r="2.4"/><circle cx="3" cy="1461" r="2.4"/></g></g>
<g transform="translate(706,0)"><rect x="-7" y="1402.1" width="14" height="110.9" fill="#d4d4d4"/><path class="eb" d="M0,1395.7V1408.5M-4,1395.7h8M-4,1408.5h8"/><g fill="#111" stroke="none"><circle cx="-2" cy="1405" r="2.4"/><circle cx="0" cy="1397" r="2.4"/><circle cx="1" cy="1406" r="2.4"/></g></g>
<g transform="translate(729,0)"><rect x="-7" y="1472.5" width="14" height="40.5" fill="#8c8c8c"/><g fill="#111" stroke="none"><circle cx="-3" cy="1473" r="2.4"/><circle cx="0" cy="1472" r="2.4"/><circle cx="3" cy="1473" r="2.4"/></g></g>
<g transform="translate(752,0)"><rect x="-7" y="1452.2" width="14" height="60.8" fill="#3a3a3a"/><path class="eb" d="M0,1443.7V1460.7M-4,1443.7h8M-4,1460.7h8"/><g fill="#111" stroke="none"><circle cx="-3" cy="1459" r="2.4"/><circle cx="0" cy="1446" r="2.4"/><circle cx="3" cy="1452" r="2.4"/></g></g>
</g>
<!-- i2 bars -->
<g stroke="#000" stroke-width=".8">
<g transform="translate(833,0)"><rect x="-5.5" y="1406.3" width="11" height="106.7" fill="#d4d4d4"/><path class="eb" d="M0,1397.8V1414.8M-4,1397.8h8M-4,1414.8h8"/><g fill="#111" stroke="none"><circle cx="-1" cy="1413" r="2.3"/><circle cx="0" cy="1399" r="2.3"/><circle cx="1" cy="1406" r="2.3"/></g></g>
<g transform="translate(850,0)"><rect x="-5.5" y="1466.1" width="11" height="46.9" fill="#8c8c8c"/><g fill="#111" stroke="none"><circle cx="-2.5" cy="1467" r="2.3"/><circle cx="0" cy="1465" r="2.3"/><circle cx="2.5" cy="1467" r="2.3"/></g></g>
<g transform="translate(867,0)"><rect x="-5.5" y="1446.9" width="11" height="66.1" fill="#3a3a3a"/><path class="eb" d="M0,1441.6V1452.2M-4,1441.6h8M-4,1452.2h8"/><g fill="#111" stroke="none"><circle cx="-1" cy="1451" r="2.3"/><circle cx="0" cy="1443" r="2.3"/><circle cx="1" cy="1447" r="2.3"/></g></g>
<g transform="translate(895,0)"><rect x="-5.5" y="1401" width="11" height="112" fill="#d4d4d4"/><path class="eb" d="M0,1396.7V1405.3M-4,1396.7h8M-4,1405.3h8"/><g fill="#111" stroke="none"><circle cx="-1" cy="1404" r="2.3"/><circle cx="0" cy="1398" r="2.3"/><circle cx="1" cy="1402" r="2.3"/></g></g>
<g transform="translate(912,0)"><rect x="-5.5" y="1460.7" width="11" height="52.3" fill="#8c8c8c"/><path class="eb" d="M0,1458.6V1462.8"/><g fill="#111" stroke="none"><circle cx="-2.5" cy="1462" r="2.3"/><circle cx="0" cy="1459" r="2.3"/><circle cx="2.5" cy="1461" r="2.3"/></g></g>
<g transform="translate(929,0)"><rect x="-5.5" y="1444.7" width="11" height="68.3" fill="#3a3a3a"/><path class="eb" d="M0,1437.2V1452.2M-4,1437.2h8M-4,1452.2h8"/><g fill="#111" stroke="none"><circle cx="-1" cy="1451" r="2.3"/><circle cx="0" cy="1439" r="2.3"/><circle cx="1" cy="1445" r="2.3"/></g></g>
<g transform="translate(957,0)"><rect x="-5.5" y="1406.3" width="11" height="106.7" fill="#d4d4d4"/><g fill="#111" stroke="none"><circle cx="-2.5" cy="1407" r="2.3"/><circle cx="0" cy="1406" r="2.3"/><circle cx="2.5" cy="1406" r="2.3"/></g></g>
<g transform="translate(974,0)"><rect x="-5.5" y="1467.1" width="11" height="45.9" fill="#8c8c8c"/><g fill="#111" stroke="none"><circle cx="-2.5" cy="1467" r="2.3"/><circle cx="0" cy="1466" r="2.3"/><circle cx="2.5" cy="1467" r="2.3"/></g></g>
<g transform="translate(991,0)"><rect x="-5.5" y="1454.3" width="11" height="58.7" fill="#3a3a3a"/><path class="eb" d="M0,1451.1V1457.5M-4,1451.1h8M-4,1457.5h8"/><g fill="#111" stroke="none"><circle cx="-2" cy="1456" r="2.3"/><circle cx="0" cy="1452" r="2.3"/><circle cx="2" cy="1454" r="2.3"/></g></g>
<g transform="translate(1020,0)"><rect x="-5.5" y="1403.1" width="11" height="109.9" fill="#d4d4d4"/><path class="eb" d="M0,1399.9V1406.3M-4,1399.9h8M-4,1406.3h8"/><g fill="#111" stroke="none"><circle cx="-2" cy="1405" r="2.3"/><circle cx="0" cy="1401" r="2.3"/><circle cx="2" cy="1404" r="2.3"/></g></g>
<g transform="translate(1037,0)"><rect x="-5.5" y="1473.5" width="11" height="39.5" fill="#8c8c8c"/><path class="eb" d="M0,1468.2V1478.8M-4,1468.2h8M-4,1478.8h8"/><g fill="#111" stroke="none"><circle cx="-1" cy="1477" r="2.3"/><circle cx="0" cy="1470" r="2.3"/><circle cx="1" cy="1474" r="2.3"/></g></g>
<g transform="translate(1054,0)"><rect x="-5.5" y="1467.1" width="11" height="45.9" fill="#3a3a3a"/><path class="eb" d="M0,1462.8V1471.4M-4,1462.8h8M-4,1471.4h8"/><g fill="#111" stroke="none"><circle cx="-2" cy="1470" r="2.3"/><circle cx="0" cy="1464" r="2.3"/><circle cx="2" cy="1467" r="2.3"/></g></g>
</g>
<path class="ax" d="M543,1357H585M539,1385.5H560M623,1357H665M619,1385.5H640M709,1357H752M705,1385.5H725
M830,1358.5H866M830,1385.5H846M894,1358.5H930M895,1385.5H910M958,1358.5H994M959,1385.5H975M1020,1358.5H1054M1023,1385.5H1038"/>

<text transform="translate(497,1435) rotate(-90)" text-anchor="middle" font-size="12">Fold change of <tspan class="it">NDUFB8</tspan></text>
<text transform="translate(792,1435) rotate(-90)" text-anchor="middle" font-size="12">Fold change of <tspan class="it">CEMIP2</tspan></text>
<text transform="translate(46,1430) rotate(-90)" text-anchor="middle" font-size="12">Fold change of <tspan class="it">NDUFB8</tspan></text>
<text transform="translate(258,1430) rotate(-90)" text-anchor="middle" font-size="12">Fold change of <tspan class="it">CEMIP2</tspan></text>
<g font-size="12" text-anchor="end">
<text transform="translate(101,1527) rotate(-55)">HPNE</text><text transform="translate(133,1527) rotate(-55)">CFPAC</text><text transform="translate(163,1527) rotate(-55)">8988</text><text transform="translate(193,1527) rotate(-55)">T1030411</text><text transform="translate(225,1527) rotate(-55)">T983610</text>
<text transform="translate(304,1527) rotate(-55)">HPNE</text><text transform="translate(336,1527) rotate(-55)">CFPAC</text><text transform="translate(366,1527) rotate(-55)">8988</text><text transform="translate(399,1527) rotate(-55)">T1030411</text><text transform="translate(431,1527) rotate(-55)">T983610</text>
</g>
<g font-size="12" text-anchor="middle">
<text x="562" y="1534">8988</text><text x="648" y="1534">CFPAC</text><text x="729" y="1534">T1030411</text>
<text x="849" y="1534">8988</text><text x="908" y="1534">CFPAC</text><text x="976" y="1534">T1030411</text><text x="1039" y="1534">T983610</text>
</g>
<g font-size="12">
<rect x="531" y="1318" width="8" height="10" fill="#d4d4d4" stroke="#333" stroke-width=".6"/><text x="544" y="1327">shCtrl</text>
<rect x="586" y="1318" width="8" height="10" fill="#8c8c8c" stroke="#333" stroke-width=".6"/><text x="598" y="1327">shNDUFB8-2</text>
<rect x="679" y="1318" width="8" height="10" fill="#3a3a3a" stroke="#333" stroke-width=".6"/><text x="691" y="1327">shNDUFB8-3</text>
<rect x="827" y="1318" width="8" height="10" fill="#d4d4d4" stroke="#333" stroke-width=".6"/><text x="841" y="1327">shCtrl</text>
<rect x="891" y="1318" width="8" height="10" fill="#8c8c8c" stroke="#333" stroke-width=".6"/><text x="904" y="1327">shCEMIP2-1</text>
<rect x="986" y="1318" width="8" height="10" fill="#3a3a3a" stroke="#333" stroke-width=".6"/><text x="999" y="1327">shCEMIP2-3</text>
</g>
<g font-size="12" class="red it">
<text x="543" y="1350">p=0.0101</text><text x="623" y="1350">p=0.0004</text><text x="709" y="1350">p=0.0024</text>
<text x="540" y="1378">p=0.0003</text><text x="617" y="1378">p=0.0003</text><text x="701" y="1378">p=0.0001</text>
</g>
<g font-size="11.5" class="red it">
<text x="830" y="1350">p=0.0050</text><text x="889" y="1350">p=0.0019</text><text x="952" y="1350">p=0.0001</text><text x="1018" y="1350">p=0.0001</text>
<text x="830" y="1378">p=0.0008</text><text x="895" y="1378">p=0.0001</text><text x="958" y="1378">p=0.0001</text><text x="1022" y="1378">p=0.0002</text>
</g>
<g font-size="11" text-anchor="end">
<text x="56" y="1354">8</text><text x="56" y="1395">6</text><text x="56" y="1436">4</text><text x="56" y="1476">2</text><text x="56" y="1517">0</text>
<text x="267" y="1351">8</text><text x="267" y="1392">6</text><text x="267" y="1434">4</text><text x="267" y="1475">2</text><text x="267" y="1517">0</text>
<text x="519" y="1357">1.5</text><text x="519" y="1410">1.0</text><text x="519" y="1464">0.5</text><text x="519" y="1517">0.0</text>
<text x="814" y="1357">1.5</text><text x="814" y="1410">1.0</text><text x="814" y="1464">0.5</text><text x="814" y="1517">0.0</text>
</g>
</svg>
</body></html>
